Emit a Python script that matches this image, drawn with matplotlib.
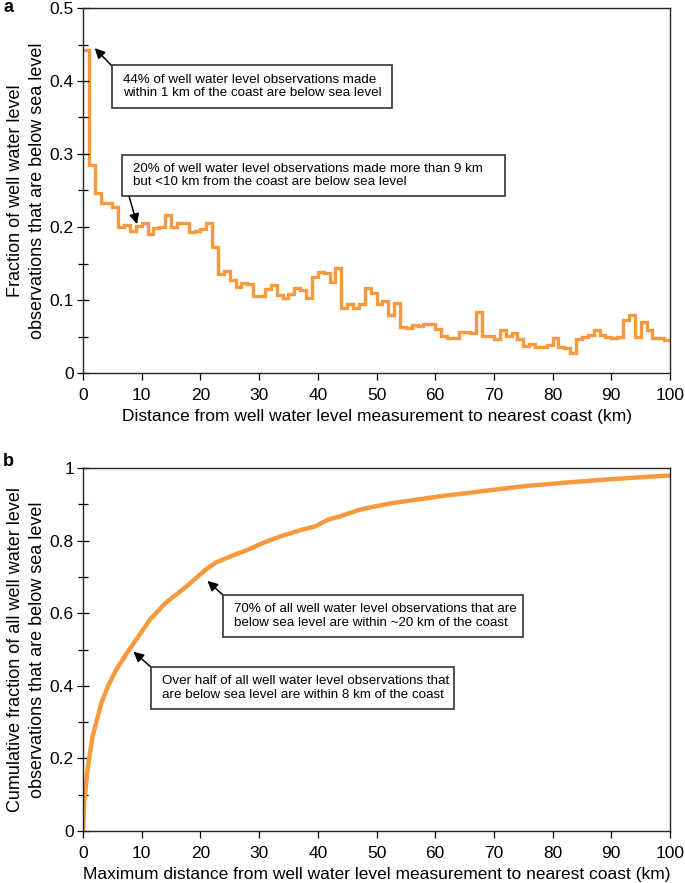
import numpy as np
import matplotlib.pyplot as plt
from matplotlib.patches import Rectangle
from matplotlib.ticker import MultipleLocator, FuncFormatter

plt.rcParams['font.family'] = ['Liberation Sans', 'DejaVu Sans']

# panel a: fraction below sea level per 1 km distance bin (0-100 km)
bin_edges_km = np.arange(0, 101, 1)
frac_below = [
    0.443, 0.285, 0.247, 0.233, 0.233, 0.228, 0.200, 0.203, 0.194, 0.201,
    0.206, 0.190, 0.199, 0.200, 0.217, 0.200, 0.205, 0.205, 0.193, 0.195,
    0.197, 0.206, 0.172, 0.135, 0.140, 0.128, 0.118, 0.123, 0.122, 0.105,
    0.105, 0.115, 0.121, 0.107, 0.103, 0.108, 0.117, 0.114, 0.103, 0.131,
    0.139, 0.137, 0.124, 0.144, 0.089, 0.094, 0.089, 0.095, 0.116, 0.110,
    0.094, 0.098, 0.080, 0.096, 0.063, 0.061, 0.066, 0.064, 0.067, 0.067,
    0.060, 0.051, 0.048, 0.048, 0.056, 0.056, 0.055, 0.084, 0.051, 0.051,
    0.047, 0.059, 0.051, 0.055, 0.047, 0.037, 0.040, 0.035, 0.035, 0.038,
    0.048, 0.036, 0.034, 0.028, 0.046, 0.049, 0.052, 0.059, 0.052, 0.050,
    0.048, 0.050, 0.073, 0.079, 0.050, 0.070, 0.059, 0.048, 0.048, 0.045,
]

# panel b: cumulative fraction vs max distance
cum_km = [0, 0.2, 0.78, 1.63, 3.14, 4.25, 5.69, 7.52, 9.48, 11.44, 14.05,
          17.65, 20.9, 22.55, 25.2, 28.1, 30.7, 33.7, 37.3, 39.5, 41.8,
          43.8, 47.1, 49.7, 52.9, 56.9, 60.8, 65.4, 70.0, 75.2, 81.7, 88.9,
          97.4, 100.0]
cum_frac = [0, 0.078, 0.17, 0.261, 0.353, 0.399, 0.445, 0.491, 0.537, 0.583,
            0.628, 0.674, 0.72, 0.739, 0.757, 0.775, 0.794, 0.812, 0.83,
            0.839, 0.858, 0.867, 0.885, 0.894, 0.904, 0.913, 0.922, 0.931,
            0.94, 0.95, 0.959, 0.968, 0.977, 0.979]

notes_a = [
    '44% of well water level observations made\n'
    'within 1 km of the coast are below sea level',
    '20% of well water level observations made more than 9 km\n'
    'but <10 km from the coast are below sea level',
]
notes_b = [
    '70% of all well water level observations that are\n'
    'below sea level are within ~20 km of the coast',
    'Over half of all well water level observations that\n'
    'are below sea level are within 8 km of the coast',
]

orange = '#F7993C'
fmt = FuncFormatter(lambda v, p: '{:g}'.format(round(v, 3)))

fig = plt.figure(figsize=(6.85, 8.83), dpi=100)
W, H = 685, 883


def add_ax(x0, y0, x1, y1):
    return fig.add_axes([x0 / W, 1 - y1 / H, (x1 - x0) / W, (y1 - y0) / H])


def style(ax):
    for s in ax.spines.values():
        s.set_linewidth(1.0)
        s.set_color('#222222')
    ax.tick_params(axis='y', which='both', direction='inout', length=9,
                   width=0.9, labelsize=12.5, pad=2)
    ax.tick_params(axis='y', which='minor', length=7)
    ax.tick_params(axis='x', which='both', direction='out', length=5,
                   width=0.9, labelsize=12.5, pad=6)
    ax.xaxis.set_major_locator(MultipleLocator(10))
    ax.xaxis.set_major_formatter(fmt)
    ax.yaxis.set_major_formatter(fmt)
    ax.set_xlim(0, 100)


def note(ax, text, box, tail, tip):
    # box = (left, top, right, bottom) in pixels from the top-left
    x0, y0, x1, y1 = box
    fig.add_artist(Rectangle((x0 / W, 1 - y1 / H), (x1 - x0) / W, (y1 - y0) / H,
                             transform=fig.transFigure, fc='white',
                             ec='#333333', lw=1.2, zorder=5))
    fig.text((x0 + 11) / W, 1 - (y0 + y1) / 2 / H, text, fontsize=9.6,
             ha='left', va='center', linespacing=1.22, zorder=6)
    ax.annotate('', xy=tip, xytext=(tail[0], H - tail[1]),
                textcoords='figure pixels',
                arrowprops=dict(arrowstyle='-|>', color='black', lw=1.1,
                                mutation_scale=15, shrinkA=0, shrinkB=0),
                zorder=7)


# ---- panel a
ax1 = add_ax(83, 8, 670, 373)
ax1.stairs(frac_below, bin_edges_km, color=orange, lw=2.4, baseline=None)
ax1.set_ylim(0, 0.5)
ax1.yaxis.set_major_locator(MultipleLocator(0.1))
ax1.yaxis.set_minor_locator(MultipleLocator(0.05))
style(ax1)
ax1.set_xlabel('Distance from well water level measurement to nearest coast (km)',
               fontsize=12.5, labelpad=4)
ax1.set_ylabel('Fraction of well water level\nobservations that are below sea level',
               fontsize=13, labelpad=3, linespacing=1.35)
note(ax1, notes_a[0], (112, 65, 392, 108), (112, 66), (2.0, 0.445))
note(ax1, notes_a[1], (122, 155, 505, 196), (129, 196), (9.2, 0.204))
fig.text(3 / W, 1 - 8 / H, 'a', fontsize=13, fontweight='bold', va='center')

# ---- panel b
ax2 = add_ax(83, 468, 670, 831)
ax2.plot(cum_km, cum_frac, color=orange, lw=3.2, solid_capstyle='butt')
ax2.set_ylim(0, 1)
ax2.yaxis.set_major_locator(MultipleLocator(0.2))
ax2.yaxis.set_minor_locator(MultipleLocator(0.1))
style(ax2)
ax2.set_xlabel('Maximum distance from well water level measurement to nearest coast (km)',
               fontsize=12.5, labelpad=4)
ax2.set_ylabel('Cumulative fraction of all well water level\n'
               'observations that are below sea level', fontsize=13,
               labelpad=3, linespacing=1.35)
note(ax2, notes_b[0], (223, 595, 523, 637), (224, 596), (21.2, 0.689))
note(ax2, notes_b[1], (151, 667, 454, 709), (152, 668), (8.6, 0.494))
fig.text(3 / W, 1 - 462 / H, 'b', fontsize=13, fontweight='bold', va='center')

fig.savefig('out.png', dpi=100)
